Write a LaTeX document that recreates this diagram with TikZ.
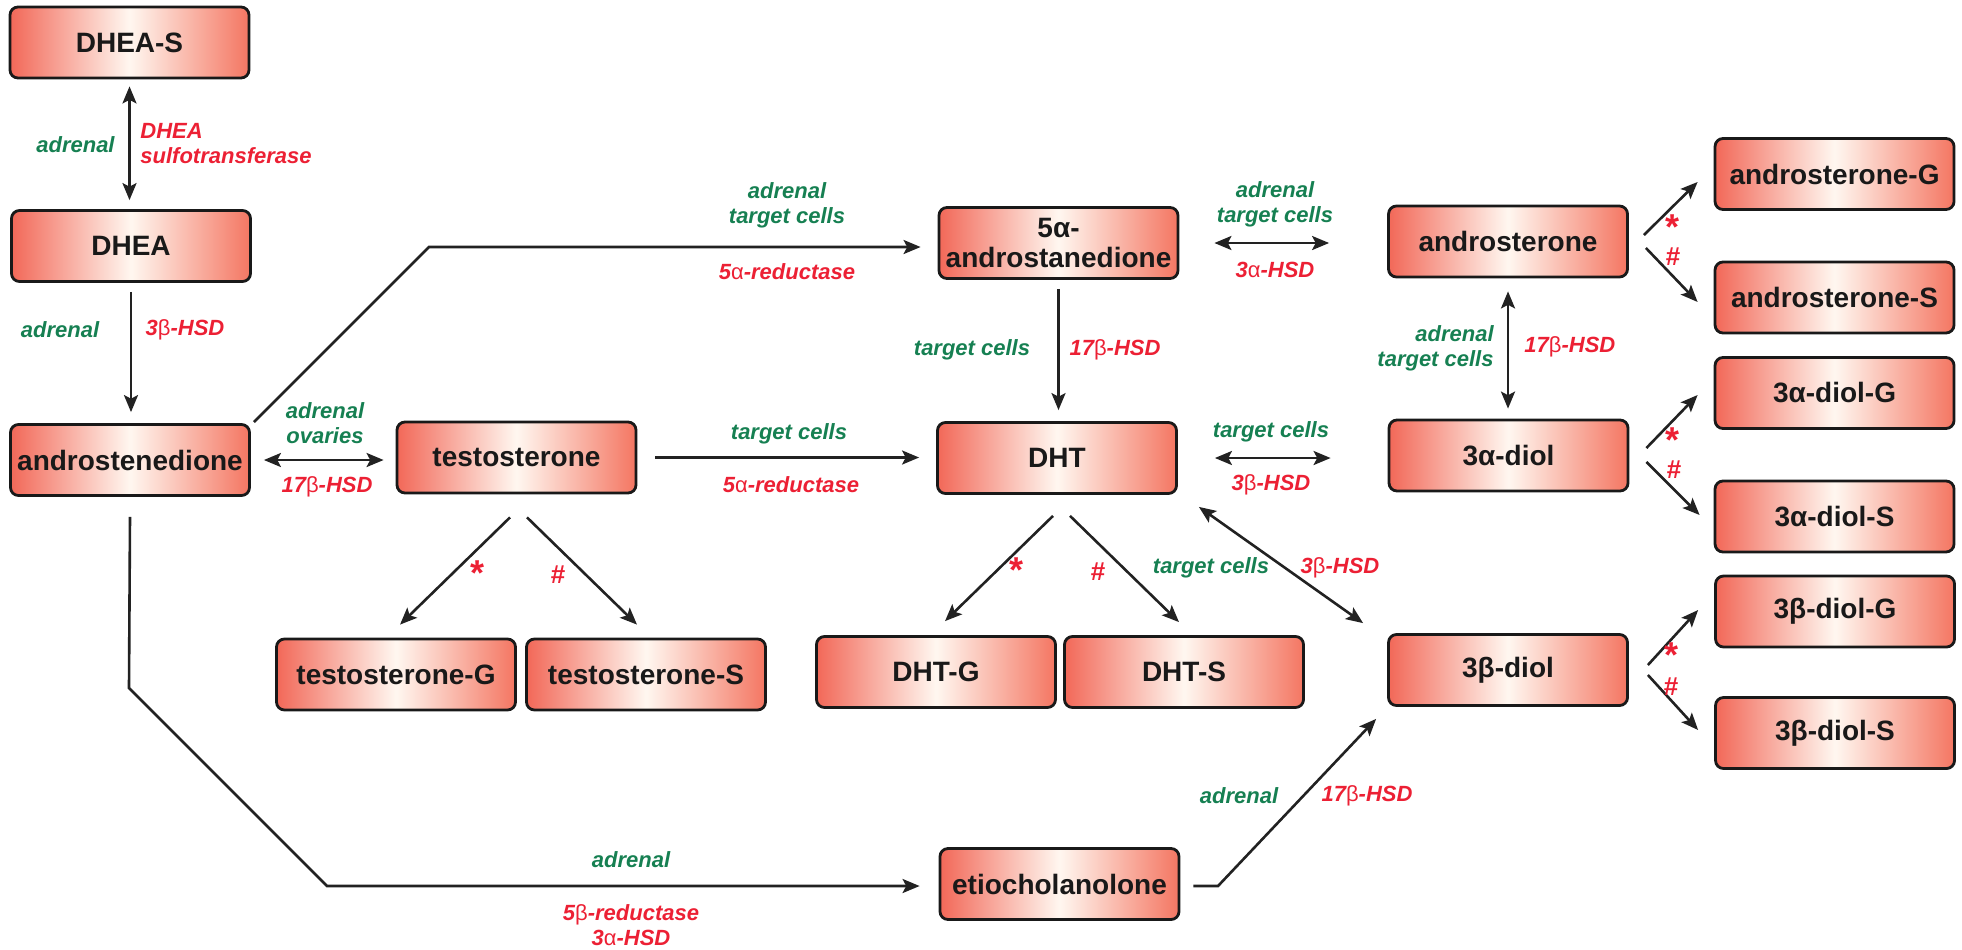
\documentclass[tikz,border=0pt]{standalone}
\usepackage{fontspec}
\setmainfont{Liberation Sans}
\usetikzlibrary{arrows.meta}
\definecolor{boxred}{RGB}{242,104,88}
\definecolor{boxredR}{RGB}{244,118,98}
\definecolor{boxmid}{RGB}{255,247,240}
\definecolor{lblgreen}{RGB}{22,128,82}
\definecolor{lblred}{RGB}{236,32,52}
\definecolor{arrgray}{RGB}{34,34,34}
\newcommand{\mybeta}{{\upshape\mdseries β}}
\newcommand{\myalpha}{{\upshape\mdseries α}}
\begin{document}
\begin{tikzpicture}[x=0.5pt,y=-0.5pt,
 box/.style={draw=black!90, line width=1.4pt, rounded corners=4pt,
   left color=boxred, right color=boxredR, middle color=boxmid,
   minimum width=119.5pt, minimum height=35.5pt, inner sep=1pt,
   font=\fontsize{14}{15}\selectfont\bfseries, text=black!90, align=center},
 lblg/.style={text=lblgreen, font=\fontsize{11}{12.5}\selectfont\bfseries\itshape, align=center, inner sep=0pt},
 lblr/.style={text=lblred, font=\fontsize{11}{12.5}\selectfont\bfseries\itshape, align=center, inner sep=0pt},
 star/.style={text=lblred, font=\fontsize{18}{18}\selectfont\bfseries, inner sep=0pt},
 hash/.style={text=lblred, font=\fontsize{13}{13}\selectfont\bfseries, inner sep=0pt},
 arr/.style={draw=arrgray, line width=1.3pt, -{Stealth[length=8.5pt,width=7pt,inset=1.8pt]}},
 dbl/.style={draw=arrgray, line width=1.3pt, {Stealth[length=8.5pt,width=7pt,inset=1.8pt]}-{Stealth[length=8.5pt,width=7pt,inset=1.8pt]}},
]
\useasboundingbox (0,0) rectangle (1962,949);

% boxes
\node[box] (DHEAS) at (129.5,42.5) {DHEA-S};
\node[box] (DHEA) at (131,246) {DHEA};
\node[box] (andro) at (130,460) {androstenedione};
\node[box] (testo) at (516.5,457.5) {testosterone};
\node[box] (alpha5) at (1058.5,243) {5α-\\androstanedione};
\node[box] (DHT) at (1057,458) {DHT};
\node[box] (anst) at (1508,241.5) {androsterone};
\node[box] (dA) at (1508.5,455.5) {3α-diol};
\node[box] (dB) at (1508,670) {3β-diol};
\node[box] (anG) at (1834.5,174) {androsterone-G};
\node[box] (anS) at (1834.5,297.5) {androsterone-S};
\node[box] (dAG) at (1834.5,393) {3α-diol-G};
\node[box] (dAS) at (1834.5,516.5) {3α-diol-S};
\node[box] (dBG) at (1835,611.5) {3β-diol-G};
\node[box] (dBS) at (1835,733) {3β-diol-S};
\node[box] (tG) at (396,674.5) {testosterone-G};
\node[box] (tS) at (646,674.5) {testosterone-S};
\node[box] (dG) at (936,672) {DHT-G};
\node[box] (dS) at (1184,672) {DHT-S};
\node[box] (etio) at (1059.5,884) {etiocholanolone};

% helper coordinates
\coordinate (k1) at (429,247);
\coordinate (k2) at (1218,886);
\coordinate (k3) at (129,688);
\coordinate (k4) at (327,886);

% connectors
\draw[dbl, shorten <=3.5pt, shorten >=4.5pt] (DHEAS.south) -- (DHEAS.south |- DHEA.north);
\draw[arr, shorten <=4.5pt, shorten >=5.5pt] (DHEA.south) -- (DHEA.south |- andro.north);
\draw[arr, shorten >=8.5pt] ([shift={(3,-1)}]andro.north east) -- (k1) -- (k1 -| alpha5.west);
\draw[dbl, shorten <=6.5pt, shorten >=6pt] (andro.east) -- (andro.east -| testo.west);
\draw[arr, shorten <=9pt, shorten >=8.5pt] (testo.east) -- (testo.east -| DHT.west);
\draw[arr, shorten <=4.5pt, shorten >=5.5pt] (alpha5.south) -- (alpha5.south |- DHT.north);
\draw[dbl, shorten <=17.5pt, shorten >=29pt] (alpha5.east) -- (alpha5.east -| anst.west);
\draw[dbl, shorten <=18.5pt, shorten >=28.5pt] (DHT.east) -- (DHT.east -| dA.west);
\draw[dbl, shorten <=6.5pt, shorten >=5pt] (anst.south) -- (anst.south |- dA.north);
\draw[dbl] ([shift={(21,12)}]DHT.south east) -- ([shift={(-24,-10)}]dB.north west);
\draw[arr] ([shift={(13,2)}]etio.east) -- (k2) -- ([shift={(-11,12)}]dB.south west);
\draw[arr, shorten >=9.5pt] ([yshift=-10pt]andro.south) -- (k3) -- (k4) -- (k4 -| etio.west);

\draw[arr] ([shift={(-6.5,23)}]testo.south) -- ([shift={(4,-13)}]tG.north);
\draw[arr] ([shift={(10.5,23)}]testo.south) -- ([shift={(-9,-13)}]tS.north);
\draw[arr] ([shift={(-4,21)}]DHT.south) -- ([shift={(9,-14)}]dG.north);
\draw[arr] ([shift={(13,21)}]DHT.south) -- ([shift={(-5,-13)}]dS.north);
\draw[arr] ([shift={(15,-6.5)}]anst.east) -- ([shift={(-16,8)}]anG.west);
\draw[arr] ([shift={(17,6.5)}]anst.east) -- ([shift={(-16,4.5)}]anS.west);
\draw[arr] ([shift={(17,-7.5)}]dA.east) -- ([shift={(-16,2)}]dAG.west);
\draw[arr] ([shift={(17,6.5)}]dA.east) -- ([shift={(-14,-1.5)}]dAS.west);
\draw[arr] ([shift={(19,-5)}]dB.east) -- ([shift={(-16,-1.5)}]dBG.west);
\draw[arr] ([shift={(19,5)}]dB.east) -- ([shift={(-16,-3)}]dBS.west);

% labels
\node[lblg, anchor=east] (l1) at (115,145) {adrenal};
\node[lblr, anchor=west, align=left] (l2) at (140,144) {DHEA\\sulfotransferase};
\node[lblg] (l3) at (60,330) {adrenal};
\node[lblr] (l4) at (185,330) {3\mybeta-HSD};
\node[lblg] (l5) at (325,423.5) {adrenal\\ovaries};
\node[lblr] (l6) at (327,487) {17\mybeta-HSD};
\node[lblg] (l7) at (787,205.5) {adrenal\\target cells};
\node[lblr] (l8) at (787,272) {5\myalpha-reductase};
\node[lblg] (l9) at (789,434) {target cells};
\node[lblr] (l10) at (791,485) {5\myalpha-reductase};
\node[lblg] (l11) at (1275,204.5) {adrenal\\target cells};
\node[lblr] (l12) at (1275,270) {3\myalpha-HSD};
\node[lblg] (l13) at (972,350) {target cells};
\node[lblr] (l14) at (1115,350) {17\mybeta-HSD};
\node[lblg] (l15) at (1271,432) {target cells};
\node[lblr] (l16) at (1271,485) {3\mybeta-HSD};
\node[lblg, anchor=east, align=right] (l17) at (1494,348.5) {adrenal\\target cells};
\node[lblr, anchor=west] (l18) at (1524,347) {17\mybeta-HSD};
\node[lblg] (l19) at (1211,568) {target cells};
\node[lblr] (l20) at (1340,568) {3\mybeta-HSD};
\node[lblg] (l21) at (631,860) {adrenal};
\node[lblr] (l22) at (631,925) {5\mybeta-reductase\\3\myalpha-HSD};
\node[lblg] (l23) at (1239,796) {adrenal};
\node[lblr] (l24) at (1367,796) {17\mybeta-HSD};

% conjugation marks
\node[star] (m1) at (477,573) {*};
\node[hash] (m2) at (558,575) {\#};
\node[star] (m3) at (1016,570) {*};
\node[hash] (m4) at (1098,572) {\#};
\node[star] (m5) at (1672,227) {*};
\node[hash] (m6) at (1673,257) {\#};
\node[star] (m7) at (1672,440) {*};
\node[hash] (m8) at (1674,470) {\#};
\node[star] (m9) at (1671,655) {*};
\node[hash] (m10) at (1671,687) {\#};
\end{tikzpicture}
\end{document}
